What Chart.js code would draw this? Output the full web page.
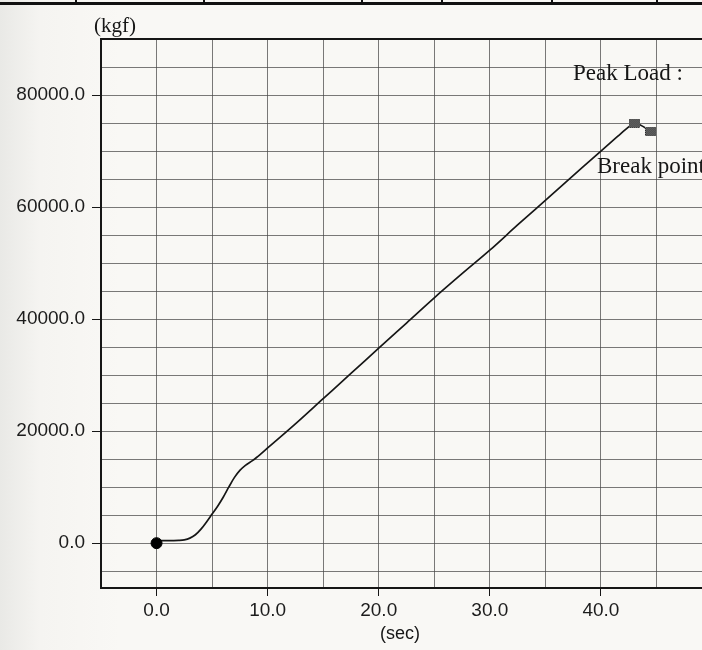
<!DOCTYPE html>
<html>
<head>
<meta charset="utf-8">
<script src="https://cdn.jsdelivr.net/npm/chart.js@4/dist/chart.umd.min.js"></script>
<style>
  html, body { margin: 0; padding: 0; width: 702px; height: 650px; overflow: hidden; }
  body { background: linear-gradient(90deg, #e9e9e6 0px, #f5f4f1 40px, #f9f8f5 120px); position: relative; }
  #rule { position: absolute; left: 0; top: 2px; width: 702px; height: 3px; background: #111; }
  .sep { position: absolute; top: 0; width: 2px; height: 5px; background: #111; }
  #wrap { position: absolute; left: 0; top: 0; }
</style>
</head>
<body>
<div id="rule"></div>
<div class="sep" style="left:75px"></div>
<div class="sep" style="left:203px"></div>
<div class="sep" style="left:361px"></div>
<div class="sep" style="left:441px"></div>
<div class="sep" style="left:551px"></div>
<div class="sep" style="left:656px"></div>
<div id="wrap"><canvas id="c" width="720" height="650"></canvas></div>
<script>
// load vs. time from the tensile test printout
const timeSec = [0, 1, 2, 2.5, 3, 3.5, 4, 4.5, 5, 5.5, 6, 6.5, 7, 7.5, 8, 8.6, 9, 10,
  12.5, 15, 17.5, 20, 22.5, 25, 27.5, 30, 32.5, 35, 37.5, 40, 41.5, 42.5, 43.0, 43.5, 44.5];
const loadKgf = [450, 450, 500, 600, 900, 1500, 2500, 3800, 5200, 6600, 8200, 10000, 11700, 13000, 13900, 14700, 15300, 17000,
  21300, 25800, 30300, 34800, 39300, 43800, 48100, 52300, 56800, 61200, 65600, 70000, 72600, 74300, 75000, 74700, 73500];
const startPoint = [0, 0];
const peakPoint = [43.0, 75000];
const breakPoint = [44.5, 73500];
const xLabelled = [0, 10, 20, 30, 40];
const yLabelled = [0, 20000, 40000, 60000, 80000];

const gridGray = "rgba(70,70,70,0.72)";
const ink = "#161616";

// little hatched square used for the peak / break markers
function hatchMark() {
  const m = document.createElement("canvas");
  m.width = 11; m.height = 9;
  const g = m.getContext("2d");
  g.fillStyle = "#222";
  g.fillRect(0, 0, 11, 9);
  g.fillStyle = "#8e8e8e";
  for (let y = 0; y < 9; y++) for (let x = 0; x < 11; x++) if ((x + y) % 2 === 0) g.fillRect(x, y, 1, 1);
  return m;
}
const mark = hatchMark();

// axis captions and the two notes on the right
const notes = {
  id: "notes",
  afterDraw(chart) {
    const c = chart.ctx, a = chart.chartArea;
    c.save();
    c.fillStyle = ink;
    c.textBaseline = "alphabetic";
    c.font = "21px 'Liberation Serif'";
    c.fillText("(kgf)", a.left - 7, a.top - 7);
    c.font = "23px 'Liberation Serif'";
    c.fillText("Peak Load :", 573, 80);
    c.fillText("Break point", 597, 173);
    c.font = "18px 'Liberation Sans'";
    c.textAlign = "center";
    c.fillText("(sec)", 400, 639);
    // top border of the plot frame
    c.strokeStyle = ink;
    c.lineWidth = 2;
    c.beginPath(); c.moveTo(a.left, a.top); c.lineTo(a.right, a.top); c.stroke();
    c.restore();
  }
};

new Chart(document.getElementById("c"), {
  type: "scatter",
  data: {
    datasets: [
      {
        data: timeSec.map((t, i) => ({ x: t, y: loadKgf[i] })),
        showLine: true, borderColor: ink, borderWidth: 1.7, pointRadius: 0,
        cubicInterpolationMode: "monotone", order: 3
      },
      {
        data: [{ x: startPoint[0], y: startPoint[1] }],
        pointRadius: 5.5, backgroundColor: "#000", borderColor: "#000", order: 1
      },
      {
        data: [{ x: peakPoint[0], y: peakPoint[1] }, { x: breakPoint[0], y: breakPoint[1] }],
        pointStyle: mark, order: 0
      }
    ]
  },
  options: {
    responsive: false, animation: false,
    layout: { padding: { top: 39, right: 8, left: 0, bottom: 0 } },
    plugins: { legend: { display: false }, tooltip: { enabled: false } },
    scales: {
      x: {
        type: "linear", min: -5, max: 50,
        afterBuildTicks: s => { s.ticks = []; for (let v = -5; v <= 50; v += 5) s.ticks.push({ value: v }); },
        afterFit: s => { s.height = 62; },
        border: { color: ink, width: 2 },
        grid: {
          color: gridGray, lineWidth: 1, tickLength: 8,
          tickColor: ctx => xLabelled.includes(ctx.tick.value) ? ink : "rgba(0,0,0,0)"
        },
        ticks: {
          color: "#1c1c1c", font: { family: "Liberation Sans", size: 19 }, padding: 3, maxRotation: 0,
          callback: v => xLabelled.includes(v) ? v.toFixed(1) : ""
        }
      },
      y: {
        type: "linear", min: -8000, max: 90000,
        afterBuildTicks: s => { s.ticks = []; for (let v = -5000; v <= 90000; v += 5000) s.ticks.push({ value: v }); },
        afterFit: s => { s.width = 101; },
        border: { color: ink, width: 2 },
        grid: {
          color: gridGray, lineWidth: 1, tickLength: 9,
          tickColor: ctx => yLabelled.includes(ctx.tick.value) ? ink : "rgba(0,0,0,0)"
        },
        ticks: {
          color: "#1c1c1c", font: { family: "Liberation Sans", size: 19 }, padding: 7,
          callback: v => yLabelled.includes(v) ? v.toFixed(1) : ""
        }
      }
    }
  },
  plugins: [notes]
});
</script>
</body>
</html>
